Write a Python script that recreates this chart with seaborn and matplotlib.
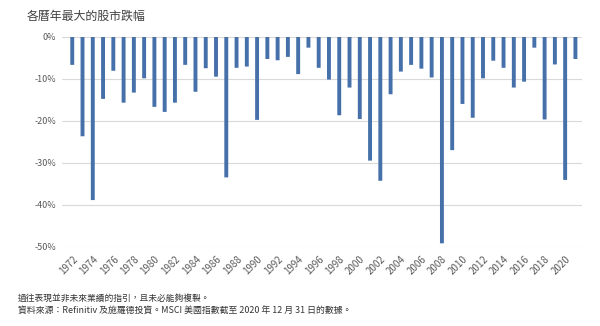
import numpy as np
import pandas as pd
import seaborn as sns
import matplotlib.pyplot as plt

years = list(range(1972, 2022))
drops = [-6.7, -23.7, -38.9, -14.8, -8.1, -15.7, -13.3, -9.9, -16.7, -17.9,
         -15.7, -6.7, -13.1, -7.5, -9.5, -33.5, -7.4, -7.1, -19.8, -5.3,
         -5.6, -4.8, -8.9, -2.6, -7.4, -10.2, -18.7, -12.1, -19.6, -29.5,
         -34.3, -13.7, -8.3, -6.7, -7.6, -9.7, -49.2, -27.0, -16.0, -19.3,
         -9.9, -5.7, -7.4, -12.1, -10.7, -2.6, -19.7, -6.6, -34.1, -5.3]
y_ticks = [0, -10, -20, -30, -40, -50]
y_labels = ["0%", "-10%", "-20%", "-30%", "-40%", "-50%"]
title = "各曆年最大的股市跌幅"
note1 = "過往表現並非未來業績的指引，且未必能夠複製。"
note2 = "資料來源：Refinitiv 及施羅德投資。MSCI 美國指數截至 2020 年 12 月 31 日的數據。"

sns.set_theme(style="white")
plt.rcParams['font.family'] = ['Noto Sans CJK TC', 'DejaVu Sans']

fig = plt.figure(figsize=(6, 3.26), dpi=100)
ax = fig.add_axes([0.1033, 0.2433, 0.866, 0.644])

df = pd.DataFrame({"year": [str(y) for y in years], "drop": drops})
sns.barplot(data=df, x="year", y="drop", color="#4670A9", saturation=1,
            width=0.38, ax=ax, zorder=3)
for p in ax.patches:
    p.set_snap(False)
    p.set_linewidth(0)

ax.set_ylim(-50, 0)
ax.set_yticks(y_ticks)
ax.set_yticklabels(y_labels, fontsize=6.5, color="#595959")
ax.yaxis.grid(True, color="#d9d9d9", lw=0.8, zorder=0)
ax.set_axisbelow(True)
for s in ax.spines.values():
    s.set_visible(False)
ax.set_xlim(-1.0, 49.6)
xt = list(range(0, len(years), 2))
ax.set_xticks(xt)
ax.set_xticklabels([str(years[i]) for i in xt], rotation=45, ha="right",
                   rotation_mode="anchor", fontsize=7, color="#595959")
ax.tick_params(axis="x", length=0, pad=5)
ax.tick_params(axis="y", length=0, pad=4)
ax.set_xlabel("")
ax.set_ylabel("")

fig.text(27 / 600, 1 - 16 / 326, title, fontsize=8.6, color="#404040", va="center", ha="left")
fig.text(18 / 600, 1 - 298 / 326, note1, fontsize=6.3, color="#333333", va="center", ha="left")
fig.text(18 / 600, 1 - 311 / 326, note2, fontsize=6.4, color="#333333", va="center", ha="left")

fig.savefig("out.png", dpi=100)
